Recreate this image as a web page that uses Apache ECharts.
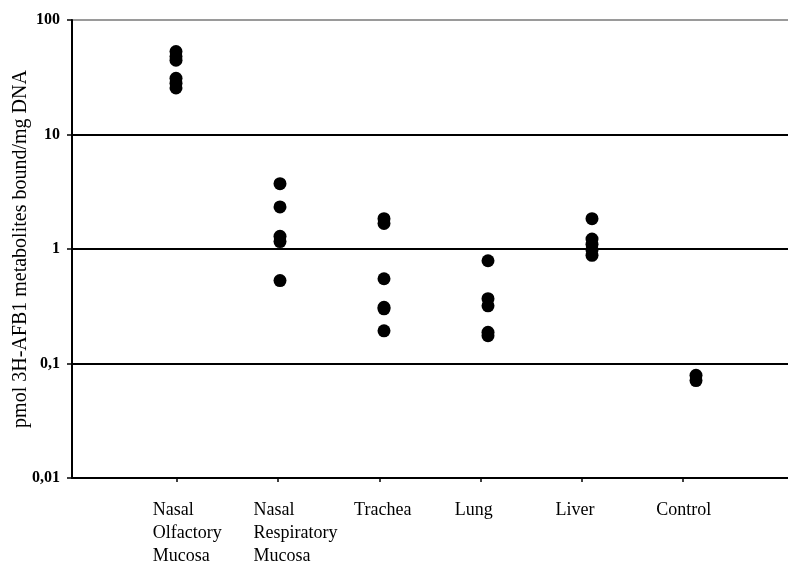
<!DOCTYPE html>
<html>
<head>
<meta charset="utf-8">
<script src="https://cdn.jsdelivr.net/npm/echarts@6/dist/echarts.min.js"></script>
<style>
  html, body { margin: 0; padding: 0; background: #fff; }
  #chart { width: 788px; height: 564px; }
</style>
</head>
<body>
<div id="chart"></div>
<script>
// Tissue groups along the horizontal axis
const categories = [
  'Nasal\nOlfactory\nMucosa',
  'Nasal\nRespiratory\nMucosa',
  'Trachea',
  'Lung',
  'Liver',
  'Control'
];

// Individual measurements per tissue (pmol bound / mg DNA)
const nasalOlfactory   = [53, 48, 44.5, 31, 28, 25.5];
const nasalRespiratory = [3.72, 2.33, 1.29, 1.16, 0.53];
const trachea          = [1.84, 1.67, 0.55, 0.31, 0.30, 0.193];
const lung             = [0.79, 0.368, 0.319, 0.187, 0.175];
const liver            = [1.84, 1.22, 1.1, 0.98, 0.88];
const control          = [0.079, 0.071];

// Log axis tick labels (decimal comma)
const yTickLabels = ['0,01', '0,1', '1', '10', '100'];
const yTickValues = [0.01, 0.1, 1, 10, 100];

const groups = [nasalOlfactory, nasalRespiratory, trachea, lung, liver, control];
const points = [];
groups.forEach((vals, i) => vals.forEach(v => points.push([i + 1, v])));

const serif = '"Liberation Serif", "Times New Roman", serif';
const catIndex = [1, 2, 3, 4, 5, 6];

const chart = echarts.init(document.getElementById('chart'), null, { renderer: 'canvas' });
chart.setOption({
  animation: false,
  backgroundColor: '#fff',
  grid: { left: 72, right: -12, top: 20, bottom: 86, containLabel: false, outerBoundsMode: 'none' },
  xAxis: [
    {
      // data axis: places the markers
      type: 'value', min: 0, max: 7, interval: 1,
      position: 'bottom',
      axisLine: { show: true, onZero: false, lineStyle: { color: '#000', width: 2 } },
      axisTick: { show: false },
      axisLabel: { show: false },
      splitLine: { show: false }
    },
    {
      // tick marks under each group
      type: 'value', min: -0.0375, max: 7.156,
      position: 'bottom',
      axisLine: { show: false, onZero: false },
      axisTick: { show: true, customValues: catIndex, length: 4, lineStyle: { color: '#000', width: 1.5 } },
      axisLabel: { show: false },
      splitLine: { show: false }
    },
    {
      // group names, left-aligned text blocks
      type: 'value', min: 0.1986, max: 7.428,
      position: 'bottom',
      axisLine: { show: false, onZero: false },
      axisTick: { show: false },
      splitLine: { show: false },
      axisLabel: {
        show: true,
        customValues: catIndex,
        formatter: v => categories[Math.round(v) - 1] || '',
        align: 'left',
        verticalAlign: 'top',
        margin: 21,
        color: '#000',
        fontFamily: serif,
        fontSize: 18,
        lineHeight: 23
      }
    }
  ],
  yAxis: {
    type: 'log', logBase: 10, min: 0.01, max: 100,
    name: 'pmol 3H-AFB1 metabolites bound/mg DNA',
    nameLocation: 'middle',
    nameGap: 41,
    nameMoveOverlap: false,
    nameTextStyle: { color: '#000', fontFamily: serif, fontSize: 20 },
    axisLine: { show: true, onZero: false, lineStyle: { color: '#000', width: 2 } },
    axisTick: { show: true, length: 5, lineStyle: { color: '#000', width: 1.5 } },
    axisLabel: {
      margin: 12,
      color: '#000',
      fontFamily: serif,
      fontWeight: 'bold',
      fontSize: 16,
      formatter: v => {
        const i = yTickValues.findIndex(t => Math.abs(Math.log10(t) - Math.log10(v)) < 1e-6);
        return i >= 0 ? yTickLabels[i] : '';
      }
    },
    splitLine: {
      show: true,
      lineStyle: { color: ['#000', '#000', '#000', '#000', '#9a9a9a'], width: 2 }
    }
  },
  series: [{
    type: 'scatter',
    xAxisIndex: 0,
    data: points,
    symbol: 'circle',
    symbolSize: 13,
    itemStyle: { color: '#000', opacity: 1 },
    z: 5
  }]
});
</script>
</body>
</html>
